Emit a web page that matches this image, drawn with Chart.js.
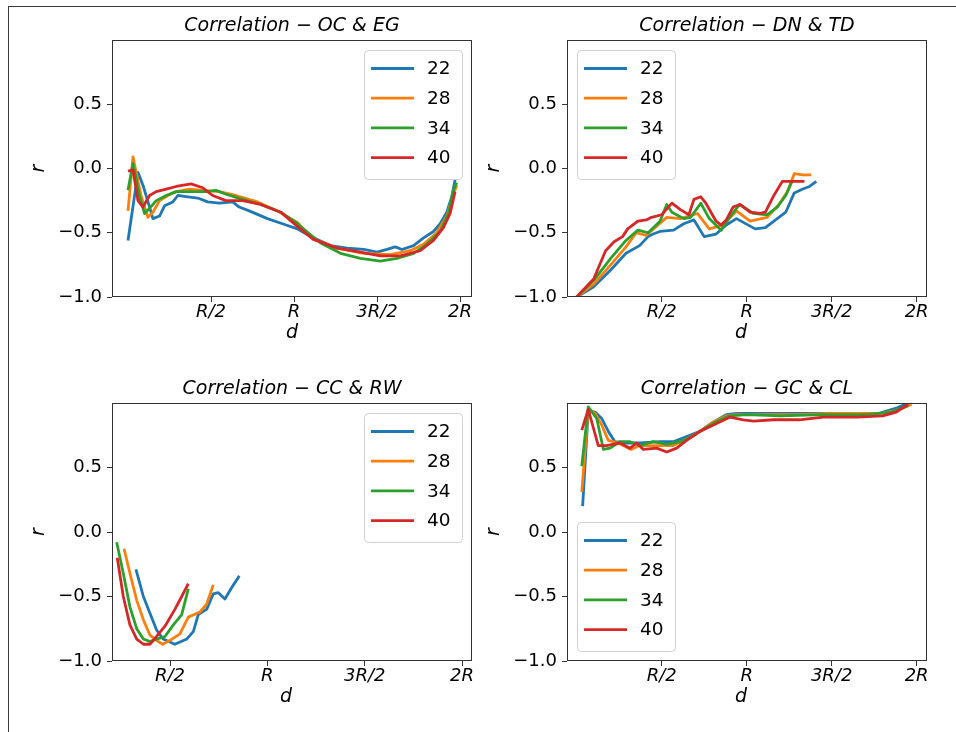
<!DOCTYPE html>
<html>
<head>
<meta charset="utf-8">
<script src="https://cdn.jsdelivr.net/npm/chart.js@4.4.1/dist/chart.umd.min.js"></script>
<style>
  html, body { margin: 0; padding: 0; background: #fff; width: 956px; height: 732px; overflow: hidden; }
  #frame { position: absolute; left: 8px; top: 6px; width: 1000px; height: 800px;
           border-left: 1px solid #3a3a3a; border-top: 1px solid #3a3a3a; }
  canvas { position: absolute; }
</style>
</head>
<body>
<div id="frame"></div>
<canvas id="c1" width="478" height="360" style="left:0px;top:0px"></canvas>
<canvas id="c2" width="478" height="360" style="left:455px;top:0px"></canvas>
<canvas id="c3" width="478" height="361" style="left:0px;top:363px"></canvas>
<canvas id="c4" width="478" height="361" style="left:455px;top:363px"></canvas>
<script>
// Series (window sizes) and their colours
const SERIES_LABELS = ['22', '28', '34', '40'];
const SERIES_COLORS = ['#1f77b4', '#ff7f0e', '#2ca02c', '#d62728'];

// Axis ticks: distance d in units of R, correlation r
const X_TICKS = [0.5, 1, 1.5, 2];
const X_TICK_LABELS = ['R/2', 'R', '3R/2', '2R'];
const Y_TICKS = [-1, -0.5, 0, 0.5];

// Correlation − OC & EG
const ocEgX22 = [0.0, 0.06, 0.09, 0.13, 0.15, 0.19, 0.22, 0.27, 0.30, 0.36, 0.42, 0.48, 0.55, 0.63, 0.67, 0.73, 0.84, 0.93, 1.02, 1.10, 1.22, 1.32, 1.42, 1.50, 1.56, 1.61, 1.65, 1.72, 1.78, 1.84, 1.88, 1.92, 1.95, 1.97];
const ocEgY22 = [-0.56, -0.03, -0.13, -0.30, -0.39, -0.37, -0.29, -0.26, -0.21, -0.22, -0.23, -0.26, -0.27, -0.26, -0.30, -0.33, -0.39, -0.43, -0.47, -0.53, -0.60, -0.62, -0.63, -0.65, -0.63, -0.61, -0.63, -0.60, -0.54, -0.49, -0.43, -0.34, -0.22, -0.09];
const ocEgX28 = [0.0, 0.03, 0.08, 0.12, 0.15, 0.19, 0.24, 0.29, 0.37, 0.45, 0.55, 0.65, 0.78, 0.90, 1.02, 1.115, 1.26, 1.42, 1.58, 1.70, 1.78, 1.86, 1.92, 1.96, 1.98];
const ocEgY28 = [-0.33, 0.09, -0.22, -0.38, -0.34, -0.25, -0.21, -0.18, -0.16, -0.17, -0.18, -0.21, -0.26, -0.33, -0.42, -0.55, -0.62, -0.66, -0.67, -0.64, -0.59, -0.50, -0.37, -0.20, -0.13];
const ocEgX34 = [0.0, 0.03, 0.07, 0.10, 0.13, 0.17, 0.23, 0.29, 0.35, 0.43, 0.47, 0.53, 0.59, 0.69, 0.80, 0.92, 1.02, 1.16, 1.28, 1.40, 1.52, 1.62, 1.72, 1.80, 1.88, 1.93, 1.96, 1.98];
const ocEgY34 = [-0.17, 0.04, -0.22, -0.35, -0.31, -0.25, -0.21, -0.18, -0.18, -0.18, -0.18, -0.17, -0.20, -0.24, -0.28, -0.34, -0.43, -0.58, -0.66, -0.70, -0.72, -0.70, -0.66, -0.59, -0.49, -0.35, -0.17, -0.11];
const ocEgX40 = [0.0, 0.03, 0.06, 0.09, 0.13, 0.17, 0.23, 0.29, 0.38, 0.45, 0.51, 0.59, 0.69, 0.80, 0.92, 1.02, 1.115, 1.26, 1.40, 1.52, 1.64, 1.76, 1.84, 1.90, 1.94, 1.97];
const ocEgY40 = [-0.02, -0.01, -0.25, -0.30, -0.21, -0.18, -0.16, -0.14, -0.12, -0.15, -0.21, -0.25, -0.25, -0.28, -0.34, -0.45, -0.55, -0.62, -0.65, -0.68, -0.68, -0.64, -0.56, -0.46, -0.35, -0.18];

// Correlation − DN & TD
const dnTdX22 = [0, 0.10, 0.20, 0.29, 0.37, 0.42, 0.45, 0.49, 0.57, 0.63, 0.69, 0.75, 0.82, 0.88, 0.94, 1.05, 1.11, 1.18, 1.23, 1.28, 1.33, 1.37, 1.41];
const dnTdY22 = [-1.0, -0.92, -0.79, -0.66, -0.60, -0.53, -0.51, -0.49, -0.48, -0.43, -0.40, -0.53, -0.51, -0.44, -0.39, -0.47, -0.46, -0.39, -0.34, -0.19, -0.16, -0.14, -0.10];
const dnTdX28 = [0, 0.10, 0.20, 0.29, 0.35, 0.41, 0.47, 0.53, 0.61, 0.71, 0.78, 0.86, 0.94, 1.02, 1.12, 1.19, 1.24, 1.28, 1.33, 1.38];
const dnTdY28 = [-1.0, -0.90, -0.75, -0.61, -0.50, -0.52, -0.45, -0.38, -0.39, -0.35, -0.47, -0.44, -0.33, -0.41, -0.38, -0.28, -0.18, -0.04, -0.05, -0.05];
const dnTdX34 = [0, 0.10, 0.20, 0.29, 0.36, 0.42, 0.49, 0.53, 0.56, 0.63, 0.67, 0.73, 0.78, 0.85, 0.90, 0.94, 0.96, 1.04, 1.12, 1.18, 1.23, 1.27];
const dnTdY34 = [-1.0, -0.87, -0.70, -0.56, -0.48, -0.50, -0.41, -0.28, -0.34, -0.39, -0.38, -0.27, -0.39, -0.48, -0.38, -0.31, -0.28, -0.35, -0.36, -0.30, -0.21, -0.09];
const dnTdX40 = [0, 0.02, 0.10, 0.17, 0.22, 0.27, 0.30, 0.36, 0.41, 0.44, 0.50, 0.56, 0.61, 0.66, 0.69, 0.73, 0.76, 0.82, 0.85, 0.88, 0.92, 0.96, 1.02, 1.08, 1.11, 1.16, 1.21, 1.27, 1.34];
const dnTdY40 = [-1.0, -0.97, -0.86, -0.64, -0.57, -0.53, -0.47, -0.41, -0.40, -0.38, -0.36, -0.27, -0.32, -0.36, -0.24, -0.22, -0.27, -0.41, -0.44, -0.40, -0.30, -0.28, -0.34, -0.35, -0.34, -0.21, -0.10, -0.10, -0.10];

// Correlation − CC & RW
const ccRwX22 = [0.325, 0.363, 0.397, 0.431, 0.465, 0.525, 0.586, 0.62, 0.645, 0.688, 0.722, 0.748, 0.782, 0.817, 0.856];
const ccRwY22 = [-0.29, -0.50, -0.63, -0.76, -0.83, -0.87, -0.83, -0.77, -0.64, -0.60, -0.48, -0.47, -0.52, -0.43, -0.34];
const ccRwX28 = [0.264, 0.294, 0.329, 0.363, 0.397, 0.431, 0.462, 0.50, 0.551, 0.594, 0.654, 0.688, 0.722];
const ccRwY28 = [-0.13, -0.32, -0.53, -0.68, -0.80, -0.84, -0.87, -0.84, -0.79, -0.66, -0.62, -0.56, -0.41];
const ccRwX34 = [0.226, 0.26, 0.294, 0.329, 0.363, 0.397, 0.431, 0.474, 0.517, 0.56, 0.594];
const ccRwY34 = [-0.08, -0.32, -0.58, -0.75, -0.83, -0.85, -0.83, -0.81, -0.72, -0.64, -0.44];
const ccRwX40 = [0.229, 0.26, 0.294, 0.329, 0.363, 0.397, 0.431, 0.474, 0.525, 0.56, 0.594];
const ccRwY40 = [-0.20, -0.50, -0.72, -0.83, -0.87, -0.87, -0.81, -0.73, -0.60, -0.50, -0.40];

// Correlation − GC & CL
const gcClX22 = [0.035, 0.068, 0.108, 0.147, 0.186, 0.225, 0.294, 0.372, 0.49, 0.568, 0.647, 0.725, 0.80, 0.88, 0.94, 1.08, 1.3, 1.5, 1.78, 1.88, 1.95];
const gcClY22 = [0.20, 0.94, 0.93, 0.88, 0.78, 0.70, 0.69, 0.69, 0.70, 0.70, 0.74, 0.78, 0.85, 0.91, 0.92, 0.92, 0.92, 0.92, 0.92, 0.96, 1.0];
const gcClX28 = [0.03, 0.068, 0.108, 0.147, 0.186, 0.245, 0.32, 0.37, 0.49, 0.568, 0.647, 0.725, 0.80, 0.88, 0.94, 1.1, 1.3, 1.5, 1.8, 1.9, 1.97];
const gcClY28 = [0.31, 0.95, 0.92, 0.83, 0.71, 0.69, 0.64, 0.67, 0.67, 0.67, 0.72, 0.78, 0.85, 0.90, 0.91, 0.91, 0.91, 0.92, 0.92, 0.95, 0.99];
const gcClX34 = [0.03, 0.068, 0.118, 0.157, 0.196, 0.255, 0.314, 0.372, 0.45, 0.53, 0.61, 0.68, 0.75, 0.83, 0.90, 1.0, 1.2, 1.45, 1.7, 1.85, 1.95];
const gcClY34 = [0.51, 0.97, 0.88, 0.64, 0.65, 0.70, 0.70, 0.67, 0.70, 0.68, 0.70, 0.74, 0.80, 0.86, 0.90, 0.91, 0.90, 0.91, 0.91, 0.93, 0.98];
const gcClX40 = [0.03, 0.068, 0.127, 0.176, 0.255, 0.314, 0.353, 0.392, 0.47, 0.53, 0.588, 0.647, 0.725, 0.82, 0.90, 0.98, 1.04, 1.16, 1.31, 1.45, 1.65, 1.80, 1.88, 1.95];
const gcClY40 = [0.79, 0.95, 0.67, 0.67, 0.69, 0.65, 0.69, 0.64, 0.65, 0.62, 0.65, 0.71, 0.78, 0.84, 0.89, 0.87, 0.86, 0.87, 0.87, 0.89, 0.89, 0.90, 0.93, 0.99];

const FONT = 'DejaVu Sans';

// Four-sided axes frame, as in a classic scientific plot
const axesFrame = {
  id: 'axesFrame',
  afterDatasetsDraw(chart) {
    const { ctx, chartArea: a } = chart;
    ctx.save();
    ctx.strokeStyle = '#333';
    ctx.lineWidth = 1;
    ctx.strokeRect(Math.round(a.left) + 0.5, Math.round(a.top) + 0.5,
                   Math.round(a.right - a.left) - 1, Math.round(a.bottom - a.top) - 1);
    ctx.restore();
  }
};

// Boxed legend placed inside the plotting area
const insetLegend = {
  id: 'insetLegend',
  afterDraw(chart, args, opts) {
    const { ctx, chartArea: a } = chart;
    const sets = chart.data.datasets;
    const W = 98, H = 129, margin = 10, rowH = 29.7;
    const x0 = opts.loc.includes('right') ? a.right - margin - W : a.left + margin;
    const y0 = opts.loc.includes('upper') ? a.top + margin : a.bottom - margin - H;
    ctx.save();
    ctx.beginPath();
    ctx.roundRect(x0 + 0.5, y0 + 0.5, W, H, 4);
    ctx.fillStyle = 'rgba(255,255,255,0.8)';
    ctx.fill();
    ctx.strokeStyle = '#d0d0d0';
    ctx.lineWidth = 1;
    ctx.stroke();
    ctx.font = '18.5px "' + FONT + '"';
    ctx.textBaseline = 'middle';
    ctx.textAlign = 'left';
    sets.forEach((ds, i) => {
      const cy = y0 + 18.5 + i * rowH;
      ctx.beginPath();
      ctx.moveTo(x0 + 7, cy);
      ctx.lineTo(x0 + 50, cy);
      ctx.strokeStyle = ds.borderColor;
      ctx.lineWidth = 2.8;
      ctx.stroke();
      ctx.fillStyle = '#000';
      ctx.fillText(ds.label, x0 + 63, cy + 1);
    });
    ctx.restore();
  }
};

function pairs(xs, ys) {
  return xs.map((x, i) => ({ x: x, y: ys[i] }));
}

function makePanel(id, title, xs, ys, xMin, xMax, legendLoc, xTitle) {
  const datasets = SERIES_LABELS.map((label, i) => ({
    label: label,
    data: pairs(xs[i], ys[i]),
    borderColor: SERIES_COLORS[i],
    backgroundColor: SERIES_COLORS[i],
    borderWidth: 2.8,
    pointRadius: 0,
    tension: 0,
    fill: false,
    borderJoinStyle: 'round',
    order: SERIES_LABELS.length - i
  }));
  return new Chart(document.getElementById(id), {
    type: 'line',
    data: { datasets: datasets },
    plugins: [axesFrame, insetLegend],
    options: {
      responsive: false,
      animation: false,
      devicePixelRatio: 1,
      layout: { padding: { left: 0, right: 6, top: 0, bottom: 0 } },
      plugins: {
        legend: { display: false },
        tooltip: { enabled: false },
        title: { display: false },
        insetLegend: { loc: legendLoc }
      },
      scales: {
        // top axis carries only the panel title, centred over the plotting area
        top: {
          type: 'linear',
          position: 'top',
          min: xMin,
          max: xMax,
          afterFit(s) { s.height = 40; },
          ticks: { display: false },
          grid: { display: false },
          border: { display: false },
          title: {
            display: true,
            text: title,
            color: '#000',
            font: { family: FONT, size: 19, style: 'italic', weight: 'normal', lineHeight: 1.2 },
            padding: { top: 14.6, bottom: 0 }
          }
        },
        x: {
          type: 'linear',
          position: 'bottom',
          min: xMin,
          max: xMax,
          afterFit(s) { s.height = 63; },
          afterBuildTicks(s) { s.ticks = X_TICKS.map(v => ({ value: v })); },
          ticks: {
            callback: v => X_TICK_LABELS[X_TICKS.indexOf(v)],
            color: '#000',
            font: { family: FONT, size: 18, style: 'italic' },
            padding: 0,
            maxRotation: 0,
            autoSkip: false
          },
          grid: { drawOnChartArea: false, drawTicks: true, tickLength: 5, color: '#333' },
          border: { display: false },
          title: {
            display: true,
            text: xTitle,
            color: '#000',
            font: { family: FONT, size: 19, style: 'italic', lineHeight: 1.2 },
            padding: { top: 0, bottom: 15.5 }
          }
        },
        y: {
          type: 'linear',
          min: -1,
          max: 1,
          afterFit(s) { s.width = 112; },
          afterBuildTicks(s) { s.ticks = Y_TICKS.map(v => ({ value: v })); },
          ticks: {
            callback: v => (v < 0 ? '\u2212' : '') + Math.abs(v).toFixed(1),
            color: '#000',
            font: { family: FONT, size: 18 },
            padding: 5
          },
          grid: { drawOnChartArea: false, drawTicks: true, tickLength: 5, color: '#333' },
          border: { display: false },
          title: {
            display: true,
            text: 'r',
            color: '#000',
            font: { family: FONT, size: 19, style: 'italic', lineHeight: 1.2 },
            padding: { top: 27.6, bottom: 0 }
          }
        }
      }
    }
  });
}

makePanel('c1', 'Correlation \u2212 OC & EG',
  [ocEgX22, ocEgX28, ocEgX34, ocEgX40], [ocEgY22, ocEgY28, ocEgY34, ocEgY40],
  -0.0964, 2.072, 'upper right', 'd');
makePanel('c2', 'Correlation \u2212 DN & TD',
  [dnTdX22, dnTdX28, dnTdX34, dnTdX40], [dnTdY22, dnTdY28, dnTdY34, dnTdY40],
  -0.057, 2.061, 'upper left', 'd  ');
makePanel('c3', 'Correlation \u2212 CC & RW',
  [ccRwX22, ccRwX28, ccRwX34, ccRwX40], [ccRwY22, ccRwY28, ccRwY34, ccRwY40],
  0.202, 2.051, 'upper right', 'd  ');
makePanel('c4', 'Correlation \u2212 GC & CL',
  [gcClX22, gcClX28, gcClX34, gcClX40], [gcClY22, gcClY28, gcClY34, gcClY40],
  -0.057, 2.061, 'lower left', 'd  ');
</script>
</body>
</html>
